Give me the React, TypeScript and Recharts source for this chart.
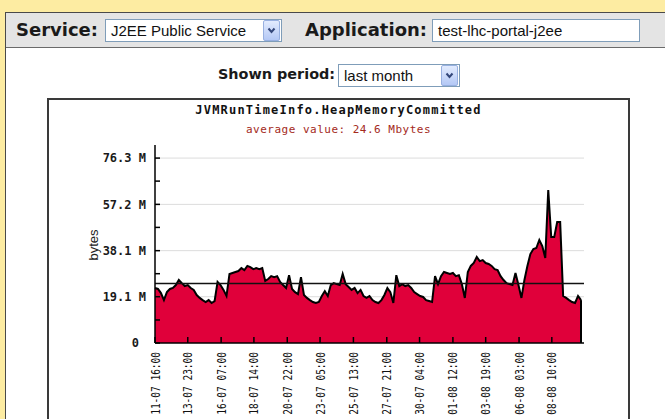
import { AreaChart, Area, XAxis, YAxis, CartesianGrid, ReferenceLine } from "recharts"

// committed heap, Mbytes, one sample every 5 hours from 11-07 16:00
const heapMb = [
    22.7, 22.3, 20.6, 17.7, 21.0, 22.3, 22.7, 23.9, 26.0, 24.7,
    23.5, 23.9, 22.7, 21.9, 19.8, 18.6, 17.7, 16.9, 17.7, 16.5,
    17.3, 25.2, 23.9, 21.9, 19.4, 28.5, 28.9, 29.3, 29.7, 30.9,
    30.1, 31.8, 31.3, 30.5, 30.9, 30.5, 30.9, 25.6, 26.4, 27.6,
    27.2, 27.6, 25.2, 23.9, 22.7, 28.0, 22.3, 21.0, 20.2, 27.2,
    19.8, 18.6, 17.7, 16.9, 16.5, 16.9, 19.4, 21.4, 19.4, 23.9,
    24.7, 24.3, 23.9, 28.5, 24.3, 23.1, 21.9, 22.7, 20.6, 21.9,
    19.4, 18.6, 19.4, 17.7, 16.9, 16.5, 17.7, 19.8, 22.7, 21.0,
    16.5, 28.0, 23.5, 24.3, 23.5, 23.9, 22.7, 21.0, 20.2, 19.4,
    19.0, 17.7, 17.3, 16.9, 27.6, 24.3, 27.6, 29.3, 28.9, 28.5,
    28.9, 27.6, 28.0, 24.3, 18.6, 29.3, 31.8, 33.0, 35.5, 33.8,
    34.2, 33.0, 32.6, 31.8, 30.5, 30.1, 27.6, 26.0, 24.7, 24.3,
    23.9, 28.9, 23.9, 18.6, 26.0, 31.8, 36.7, 38.8, 39.2, 42.5,
    40.0, 35.1, 63.1, 43.7, 43.7, 49.9, 49.9, 19.4, 18.6, 17.7,
    16.9, 16.5, 19.4, 17.7,
]
const SAMPLE_HOURS = 5

const tickHours = [0, 55, 111, 166, 222, 277, 333, 389, 444, 500, 555, 611, 666]
const tickLabels = [
    "11-07 16:00", "13-07 23:00", "16-07 07:00", "18-07 14:00", "20-07 22:00",
    "23-07 05:00", "25-07 13:00", "27-07 21:00", "30-07 04:00", "01-08 12:00",
    "03-08 19:00", "06-08 03:00", "08-08 10:00",
]

const yMajor = [0, 19.1, 38.1, 57.2, 76.3]
const yMajorLabels = ["0", "19.1 M", "38.1 M", "57.2 M", "76.3 M"]
const yMinor = [9.5, 28.6, 47.7, 66.8]
const averageMb = 24.6

const data = heapMb.map((mb, i) => ({ h: i * SAMPLE_HOURS, mb }))
const lastHour = (heapMb.length - 1) * SAMPLE_HOURS

const YTick = (props: any) => {
    const { x, y, payload } = props
    const i = yMajor.indexOf(payload.value)
    const label = i >= 0 ? yMajorLabels[i] : ""
    return (
        <g>
            <line x1={x + 9} x2={x + 14} y1={y} y2={y} stroke="#000" strokeWidth={1.5} />
            {label && (
                <text x={label === "0" ? x - 7 : x} y={y} dy="0.35em" textAnchor="end"
                    fontFamily="DejaVu Sans Mono" fontWeight="bold" fontSize={12} fill="#1a1a1a">
                    {label}
                </text>
            )}
        </g>
    )
}

const XTick = (props: any) => {
    const { x, y, payload } = props
    const i = tickHours.indexOf(payload.value)
    return (
        <g>
            <line x1={x} x2={x} y1={y - 9} y2={y - 15} stroke="#000" strokeWidth={1.5} />
            <text transform={`translate(${x},${y}) rotate(-90) scale(0.73,1)`} dy="0.35em"
                textAnchor="end" fontFamily="DejaVu Sans Mono" fontSize={13} fill="#111">
                {tickLabels[i]}
            </text>
        </g>
    )
}

const Chevron = ({ left, top }: { left: number, top: number }) => (
    <div style={{
        position: "absolute", left, top, width: 17, height: 21,
        background: "linear-gradient(#e2ebfe, #b4c8f5)", border: "1px solid #98b0e0",
        borderRadius: 2, boxSizing: "border-box"
    }}>
        <svg width={15} height={19} style={{ position: "absolute", left: 0, top: 0 }}>
            <polyline points="4.5,7.5 7.5,11 10.5,7.5" fill="none" stroke="#34477a" strokeWidth={2} />
        </svg>
    </div>
)

const boxStyle = {
    position: "absolute" as const, background: "#fff", border: "1px solid #7f9db9",
    boxSizing: "border-box" as const, fontFamily: "Liberation Sans", fontSize: 15,
    color: "#111", paddingLeft: 5, lineHeight: "21px", whiteSpace: "nowrap" as const
}

const labelStyle = {
    position: "absolute" as const, fontFamily: "DejaVu Sans", fontWeight: "bold" as const,
    color: "#1a1a1a", whiteSpace: "nowrap" as const
}

export default function App() {
    return (
        <div style={{
            position: "absolute", left: 0, top: 0, width: 665, height: 419,
            background: "#fdeca2", overflow: "hidden"
        }}>
            {/* panel */}
            <div style={{
                position: "absolute", left: 5, top: 12, width: 700, height: 450,
                background: "#fff", border: "1.5px solid #4a4a4a"
            }} />
            <div style={{
                position: "absolute", left: 6, top: 13, width: 700, height: 34,
                background: "#e4e4e4", borderBottom: "1.5px solid #6a6a6a"
            }} />

            <div style={{ ...labelStyle, left: 16, top: 19, fontSize: 18 }}>Service:</div>
            <div style={{ ...boxStyle, left: 105, top: 19, width: 177, height: 23 }}>J2EE Public Service</div>
            <Chevron left={263} top={20} />
            <div style={{ ...labelStyle, left: 305, top: 19, fontSize: 18 }}>Application:</div>
            <div style={{ ...boxStyle, left: 432, top: 19, width: 208, height: 23 }}>test-lhc-portal-j2ee</div>

            <div style={{ ...labelStyle, left: 218, top: 66, fontSize: 14.4 }}>Shown period:</div>
            <div style={{ ...boxStyle, left: 338, top: 64, width: 122, height: 23 }}>last month</div>
            <Chevron left={441} top={65} />

            {/* chart box */}
            <div style={{
                position: "absolute", left: 47, top: 98, width: 583, height: 340,
                border: "2px solid #3a3a3a", boxSizing: "border-box", background: "#fff"
            }} />
            <div style={{
                position: "absolute", left: 47, width: 583, top: 103, textAlign: "center",
                fontFamily: "DejaVu Sans Mono", fontWeight: "bold", fontSize: 12,
                letterSpacing: 1.2, color: "#111"
            }}>JVMRunTimeInfo.HeapMemoryCommitted</div>
            <div style={{
                position: "absolute", left: 47, width: 583, top: 123, textAlign: "center",
                fontFamily: "DejaVu Sans Mono", fontSize: 11, letterSpacing: 0.5, color: "#a42a1c"
            }}>average value: 24.6 Mbytes</div>
            <div style={{
                position: "absolute", left: 93, top: 245, transform: "translate(-50%,-50%) rotate(-90deg)",
                fontFamily: "Liberation Sans", fontSize: 13, color: "#222"
            }}>bytes</div>

            <div style={{ position: "absolute", left: 47, top: 98 }}>
                <AreaChart width={583} height={321} data={data}
                    margin={{ top: 47, right: 46, bottom: 0, left: 48 }}>
                    <CartesianGrid vertical={false} horizontalValues={[19.1, 38.1, 57.2, 76.3]}
                        stroke="#dcdcdc" strokeWidth={1} />
                    <XAxis type="number" dataKey="h" domain={[0, 720]} ticks={tickHours}
                        interval={0} tickSize={0} tickMargin={9} height={76} tickLine={false}
                        axisLine={{ stroke: "#000", strokeWidth: 1.5 }} tick={<XTick />} />
                    <YAxis type="number" domain={[0, 81.7]} ticks={[...yMajor, ...yMinor].sort((a, b) => a - b)}
                        interval={0} width={60} tickSize={0} tickMargin={9} tickLine={false}
                        axisLine={{ stroke: "#000", strokeWidth: 1.5 }} tick={<YTick />} />
                    <Area type="linear" dataKey="mb" stroke="#000" strokeWidth={2}
                        fill="#e0003a" fillOpacity={1} dot={false} activeDot={false}
                        isAnimationActive={false} />
                    <ReferenceLine segment={[{ x: lastHour, y: 0 }, { x: lastHour, y: heapMb[heapMb.length - 1] }]}
                        stroke="#000" strokeWidth={2} />
                    <ReferenceLine y={averageMb} stroke="#111" strokeWidth={1.5} />
                </AreaChart>
            </div>
        </div>
    )
}
